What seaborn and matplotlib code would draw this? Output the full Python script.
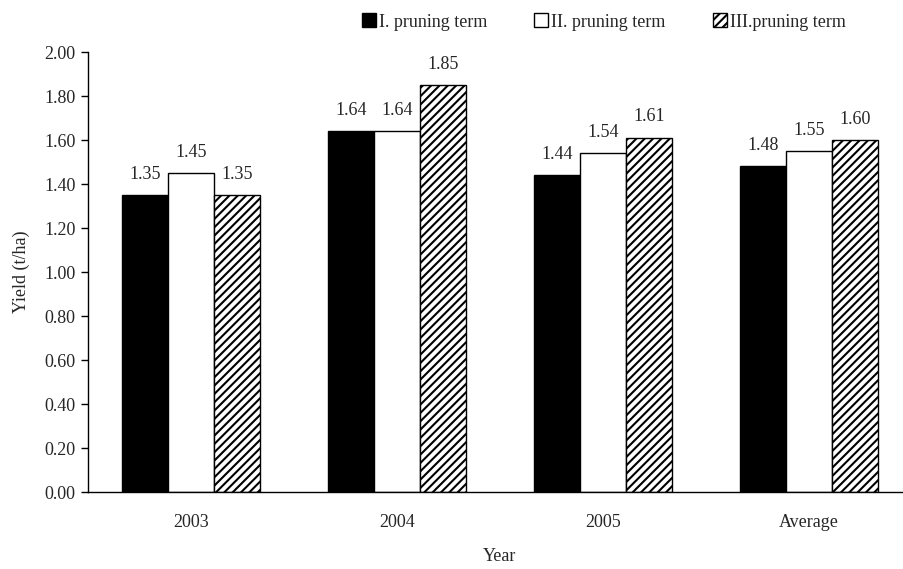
import matplotlib
matplotlib.use("Agg")
import matplotlib.pyplot as plt
import seaborn as sns
import pandas as pd
from matplotlib.patches import Patch

years = ["2003", "2004", "2005", "Average"]
terms = ["I. pruning term", "II. pruning term", "III.pruning term"]
term_i = [1.35, 1.64, 1.44, 1.48]
term_ii = [1.45, 1.64, 1.54, 1.55]
term_iii = [1.35, 1.85, 1.61, 1.60]
y_ticks = [0.0, 0.2, 0.4, 0.6, 0.8, 1.0, 1.2, 1.4, 1.6, 1.8, 2.0]

df = pd.DataFrame({
    "Year": years * 3,
    "Term": [terms[0]] * 4 + [terms[1]] * 4 + [terms[2]] * 4,
    "Yield": term_i + term_ii + term_iii,
})

sns.set_style("white")
plt.rcParams["font.family"] = ["Liberation Serif", "DejaVu Serif"]
plt.rcParams["hatch.linewidth"] = 1.5

fig = plt.figure(figsize=(9.04, 5.69), dpi=100)
ax = fig.add_axes([0.0973, 0.1353, 0.9115, 0.7733])

faces = ["black", "white", "white"]
hatches = [None, None, "////"]

sns.barplot(data=df, x="Year", y="Yield", hue="Term", hue_order=terms,
            palette=faces, width=0.67, gap=0, saturation=1,
            edgecolor="black", linewidth=1.0, legend=False, ax=ax)

for cont, h in zip(ax.containers, hatches):
    for bar in cont:
        if h:
            bar.set_hatch(h)
    ax.bar_label(cont, fmt="%.2f", padding=9, fontsize=13)

ax.set_xlim(-0.5, 3.5)
ax.set_ylim(0, 2.0)
ax.set_yticks(y_ticks)
ax.set_yticklabels([f"{v:.2f}" for v in y_ticks], fontsize=13)
ax.set_xticks(range(4))
ax.set_xticklabels(years, fontsize=13)
ax.tick_params(axis="x", which="major", length=0, pad=16)
ax.set_xticks([-0.5, 0.5, 1.5, 2.5, 3.5], minor=True)
ax.tick_params(axis="x", which="minor", length=6, width=1, color="black", direction="out")
ax.tick_params(axis="y", length=5, width=1, color="black", direction="out", left=True, pad=4)

for side in ["top", "right"]:
    ax.spines[side].set_visible(False)
for side in ["left", "bottom"]:
    ax.spines[side].set_color("black")
    ax.spines[side].set_linewidth(1.0)

ax.set_xlabel("Year", fontsize=13, labelpad=12)
ax.set_ylabel("Yield (t/ha)", fontsize=13, labelpad=10)

handles = [Patch(facecolor=f, edgecolor="black", hatch=h, linewidth=1.0)
           for f, h in zip(faces, hatches)]
fig.legend(handles, terms, loc="upper left", bbox_to_anchor=(0.382, 1.005),
           ncol=3, frameon=False, fontsize=13, handlelength=0.8, handleheight=0.8,
           handletextpad=0.15, columnspacing=2.6)

fig.savefig("out.png", dpi=100)
